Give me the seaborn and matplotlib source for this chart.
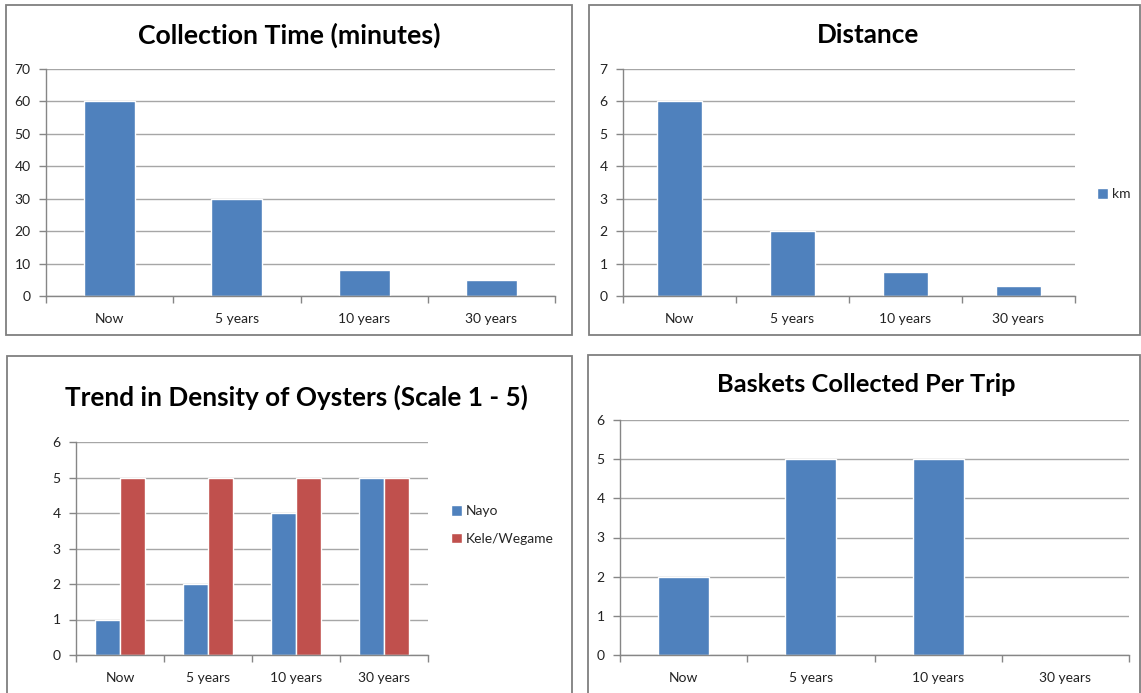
import matplotlib
matplotlib.use("Agg")
import matplotlib.pyplot as plt
from matplotlib.patches import Rectangle
import pandas as pd
import seaborn as sns

# ---- data ----
periods = ["Now", "5 years", "10 years", "30 years"]
collection_minutes = [60, 30, 8, 5]
distance_km = [6, 2, 0.75, 0.3]
density_nayo = [1, 2, 4, 5]
density_kele = [5, 5, 5, 5]
baskets_per_trip = [2, 5, 5, 0]

BLUE = "#4F81BD"
RED = "#C0504D"
GRID = "#A6A6A6"
AXIS = "#868686"
BORDER = "#7F7F7F"

sns.set_theme(style="white")
plt.rcParams["font.family"] = ["Lato", "DejaVu Sans"]

W, H = 1141, 693
fig = plt.figure(figsize=(W / 100, H / 100), dpi=100)
fig.patch.set_facecolor("white")


def px_axes(x0, x1, ytop, ybot):
    return fig.add_axes([x0 / W, 1 - ybot / H, (x1 - x0) / W, (ybot - ytop) / H])


def frame(x0, y0, x1, y1):
    fig.patches.append(Rectangle((x0 / W, 1 - y1 / H), (x1 - x0) / W, (y1 - y0) / H,
                                 transform=fig.transFigure, fill=False,
                                 edgecolor=BORDER, linewidth=1.3))


def style_axes(ax, ymax, step):
    ax.set_ylim(0, ymax)
    ax.set_xlim(-0.5, len(periods) - 0.5)
    ax.set_yticks([i * step for i in range(int(round(ymax / step)) + 1)])
    ax.yaxis.grid(True, color=GRID, linewidth=1.0)
    ax.set_axisbelow(True)
    for side in ("top", "right"):
        ax.spines[side].set_visible(False)
    for side in ("left", "bottom"):
        ax.spines[side].set_color(AXIS)
        ax.spines[side].set_linewidth(1.0)
    ax.set_xticks(range(len(periods)))
    ax.set_xticklabels(periods)
    ax.set_xticks([i - 0.5 for i in range(len(periods) + 1)], minor=True)
    ax.tick_params(axis="x", which="major", length=0, pad=12, labelsize=10, labelcolor="#222222")
    ax.tick_params(axis="x", which="minor", length=5, color=AXIS, width=1.0, bottom=True)
    ax.tick_params(axis="y", which="major", length=5, color=AXIS, width=1.0, left=True,
                   labelsize=10, labelcolor="#222222", pad=6)
    ax.set_xlabel("")
    ax.set_ylabel("")


def title(text, x, y, size=19):
    fig.text(x / W, 1 - y / H, text, ha="center", va="center",
             fontsize=size, fontweight="bold", color="black")


# panel frames
frame(6, 5, 572, 335)
frame(589, 5, 1140, 335)
frame(7, 356, 572, 700)
frame(588, 355, 1140, 700)

# ---- Collection Time ----
ax1 = px_axes(46, 555, 69, 296)
sns.barplot(x=periods, y=collection_minutes, color=BLUE, width=0.4, saturation=1, ax=ax1)
style_axes(ax1, 70, 10)
title("Collection Time (minutes)", 289, 35, 19.2)

# ---- Distance ----
ax2 = px_axes(623, 1075, 69, 296)
dist_df = pd.DataFrame({"period": periods, "value": distance_km, "series": "km"})
sns.barplot(data=dist_df, x="period", y="value", hue="series", palette=[BLUE],
            width=0.4, saturation=1, ax=ax2)
style_axes(ax2, 7, 1)
ax2.legend(loc="center left", bbox_to_anchor=(1091 / W, 1 - 194 / H),
           bbox_transform=fig.transFigure, frameon=False, fontsize=10,
           handlelength=0.8, handleheight=0.8, handletextpad=0.3, borderaxespad=0)
title("Distance", 868, 35, 18.8)

# ---- Density of oysters ----
ax3 = px_axes(76, 428, 442, 655)
dens_df = pd.DataFrame({
    "period": periods * 2,
    "value": density_nayo + density_kele,
    "series": ["Nayo"] * 4 + ["Kele/Wegame"] * 4,
})
sns.barplot(data=dens_df, x="period", y="value", hue="series", palette=[BLUE, RED],
            width=0.57, saturation=1, ax=ax3)
style_axes(ax3, 6, 1)
ax3.legend(loc="center left", bbox_to_anchor=(445 / W, 1 - 525 / H),
           bbox_transform=fig.transFigure, frameon=False, fontsize=10,
           handlelength=0.8, handleheight=0.8, handletextpad=0.3, labelspacing=1.1,
           borderaxespad=0)
title("Trend in Density of Oysters (Scale 1 - 5)", 296, 397, 18.8)

# ---- Baskets per trip ----
ax4 = px_axes(620, 1129, 420, 655)
sns.barplot(x=periods, y=baskets_per_trip, color=BLUE, width=0.4, saturation=1, ax=ax4)
style_axes(ax4, 6, 1)
title("Baskets Collected Per Trip", 866, 385, 18.3)

fig.savefig("out.png", dpi=100, facecolor="white")
